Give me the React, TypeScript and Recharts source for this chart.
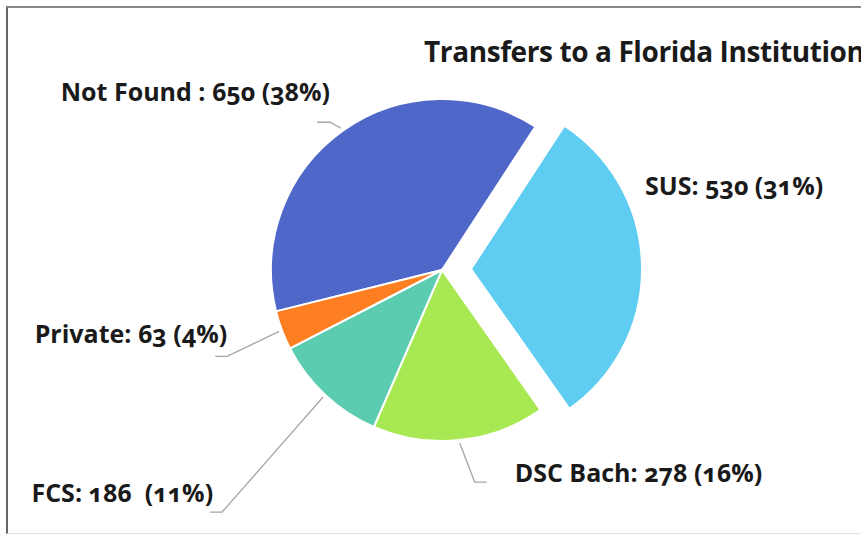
import React from "react";
import { PieChart, Pie, Cell } from "recharts";

const categories = ["Not Found", "SUS", "DSC Bach", "FCS", "Private"];
const counts = [650, 530, 278, 186, 63];
const colors = ["#4F67C8", "#5FCCF2", "#A7E853", "#5CCCB0", "#FD7F22"];
const explodedName = "SUS";

const data = categories.map((name, i) => ({ name, value: counts[i] }));

// label placement, relative to the point just outside each slice's mid angle
const labelLayout: Record<
  string,
  { sep: string; gap: string; elbow?: [number, number]; tail?: number; text: [number, number]; anchor: "start" | "end" }
> = {
  "Not Found": { sep: " : ", gap: " ", elbow: [-11, -6], tail: -13, text: [-11, -37], anchor: "end" },
  SUS: { sep: ": ", gap: " ", text: [29, -82], anchor: "start" },
  "DSC Bach": { sep: ": ", gap: " ", elbow: [15, 39], tail: 12, text: [55, 29], anchor: "start" },
  FCS: { sep: ": ", gap: "  ", elbow: [-101, 115], tail: -12, text: [-110, 95], anchor: "end" },
  Private: { sep: ": ", gap: " ", elbow: [-52, 25], tail: -12, text: [-52, 2], anchor: "end" },
};

const RAD = Math.PI / 180;

function renderLabel(props: any) {
  const { cx, cy, midAngle, outerRadius, name, value, percent } = props;
  const lay = labelLayout[name];
  const px = cx + (outerRadius + 3) * Math.cos(-midAngle * RAD);
  const py = cy + (outerRadius + 3) * Math.sin(-midAngle * RAD);
  const text = `${name}${lay.sep}${value}${lay.gap}(${Math.round(percent * 100)}%)`;
  let line = null;
  if (lay.elbow) {
    const ex = px + lay.elbow[0];
    const ey = py + lay.elbow[1];
    line = (
      <polyline
        points={`${px},${py} ${ex},${ey} ${ex + (lay.tail || 0)},${ey}`}
        fill="none"
        stroke="#a6a6a6"
        strokeWidth={1.3}
      />
    );
  }
  return (
    <g key={`lbl-${name}`}>
      {line}
      <text
        x={px + lay.text[0]}
        y={py + lay.text[1]}
        textAnchor={lay.anchor}
        dominantBaseline="central"
        fill="#1a1a1a"
        fontFamily="'Open Sans', sans-serif"
        fontWeight={700}
        fontSize={25}
        style={{ whiteSpace: "pre", fontVariantNumeric: "oldstyle-nums" }}
      >
        {text}
      </text>
    </g>
  );
}

export default function App() {
  return (
    <div style={{ position: "relative", width: 861, height: 535, overflow: "hidden", background: "#fff" }}>
      <style>{`body{margin:0}`}</style>
      <div
        style={{
          position: "absolute",
          left: 6,
          top: 6,
          width: 900,
          height: 528,
          boxSizing: "border-box",
          borderLeft: "2px solid #666",
          borderTop: "2px solid #888",
          borderBottom: "1px solid #e2e2e2",
        }}
      />
      <div
        style={{
          position: "absolute",
          left: 424,
          top: 36,
          fontFamily: "'Open Sans', sans-serif",
          fontWeight: 700,
          fontSize: 28,
          letterSpacing: -0.4,
          lineHeight: "30px",
          color: "#1a1a1a",
          whiteSpace: "nowrap",
        }}
      >
        Transfers to a Florida Institution
      </div>
      <div style={{ position: "absolute", left: 0, top: 0 }}>
        <PieChart width={861} height={535} margin={{ top: 0, right: 0, bottom: 0, left: 0 }}>
          <Pie
            data={data}
            dataKey="value"
            nameKey="name"
            cx={442}
            cy={270}
            outerRadius={171}
            startAngle={194}
            endAngle={-166}
            stroke="#fff"
            strokeWidth={2}
            label={renderLabel}
            labelLine={false}
            isAnimationActive={false}
          >
            {data.map((d, i) => (
              <Cell
                key={d.name}
                fill={d.name === explodedName ? "transparent" : colors[i]}
                stroke={d.name === explodedName ? "none" : "#fff"}
              />
            ))}
          </Pie>
          <Pie
            data={data}
            dataKey="value"
            nameKey="name"
            cx={471}
            cy={269}
            outerRadius={171}
            startAngle={194}
            endAngle={-166}
            stroke="#fff"
            strokeWidth={2}
            label={false}
            labelLine={false}
            isAnimationActive={false}
          >
            {data.map((d, i) => (
              <Cell
                key={d.name}
                fill={d.name === explodedName ? colors[i] : "transparent"}
                stroke={d.name === explodedName ? "#fff" : "none"}
              />
            ))}
          </Pie>
        </PieChart>
      </div>
    </div>
  );
}
